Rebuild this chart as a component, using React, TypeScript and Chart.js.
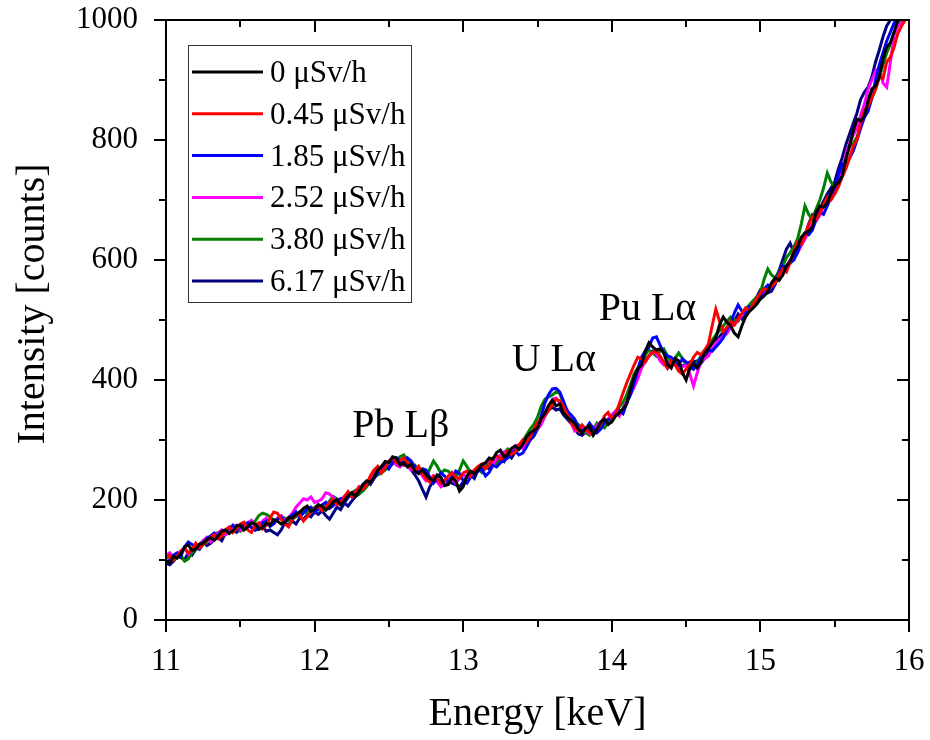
import React, { useEffect, useRef } from "react";
import { Chart, registerables } from "chart.js";
Chart.register(...registerables);

// Energy grid (keV)
const energyStart = 11;
const energyStep = 0.025;

const seriesLabels = ["0 μSv/h", "0.45 μSv/h", "1.85 μSv/h", "2.52 μSv/h", "3.80 μSv/h", "6.17 μSv/h"];
const seriesColors = ["#000000", "#ff0000", "#0000ff", "#ff00ff", "#008000", "#000080"];

const s0 = [
  98, 96, 106, 103, 110, 122, 125, 116, 118, 126, 128, 134, 137, 133, 140, 148, 150, 144, 149, 157,
  158, 150, 155, 162, 160, 151, 154, 161, 158, 167, 165, 160, 163, 171, 170, 176, 180, 186, 190, 181,
  184, 192, 190, 183, 188, 197, 200, 192, 198, 207, 212, 206, 215, 226, 232, 229, 238, 250, 256, 264,
  262, 272, 270, 258, 262, 255, 260, 248, 244, 250, 243, 236, 232, 242, 238, 224, 226, 237, 232, 215,
  222, 240, 248, 244, 250, 259, 262, 270, 268, 279, 283, 272, 276, 286, 290, 284, 292, 305, 312, 316,
  320, 336, 345, 358, 366, 357, 360, 345, 338, 333, 328, 318, 312, 320, 324, 308, 318, 330, 335, 326,
  330, 340, 345, 352, 360, 385, 405, 418, 425, 448, 462, 455, 450, 452, 445, 426, 420, 436, 432, 412,
  400, 420, 428, 420, 430, 445, 452, 461, 470, 492, 505, 496, 490, 478, 472, 490, 505, 514, 520, 526,
  535, 540, 548, 562, 570, 566, 575, 590, 598, 612, 622, 638, 645, 648, 655, 680, 690, 688, 695, 712,
  725, 728, 740, 768, 790, 815, 835, 832, 840, 866, 885, 890, 905, 935, 955, 962, 980, 1000, 1015, 1030,
  1035];

const s1 = [
  102, 108, 100, 106, 114, 120, 112, 118, 128, 120, 126, 133, 138, 142, 135, 140, 150, 155, 146, 152,
  160, 163, 150, 146, 158, 162, 152, 158, 170, 180, 178, 168, 160, 155, 168, 176, 175, 165, 172, 180,
  186, 190, 182, 188, 196, 201, 192, 196, 205, 214, 206, 213, 222, 218, 225, 240, 250, 256, 245, 254,
  265, 270, 262, 266, 270, 262, 255, 248, 256, 244, 236, 230, 240, 235, 228, 233, 240, 246, 238, 236,
  245, 248, 240, 250, 256, 260, 252, 258, 270, 274, 268, 272, 282, 276, 280, 291, 300, 296, 305, 318,
  330, 334, 342, 350, 358, 368, 365, 356, 342, 330, 320, 315, 325, 318, 312, 308, 318, 326, 340, 346,
  335, 343, 360, 378, 395, 410, 425, 438, 435, 430, 440, 446, 448, 440, 430, 420, 432, 426, 415, 410,
  418, 426, 438, 446, 442, 450, 460, 490, 518, 498, 480, 488, 498, 492, 502, 511, 520, 515, 525, 536,
  545, 552, 550, 556, 562, 575, 585, 580, 596, 615, 630, 626, 640, 660, 672, 668, 678, 692, 705, 700,
  710, 722, 738, 752, 770, 790, 800, 828, 850, 856, 870, 884, 905, 902, 930, 938, 955, 978, 990, 1000,
  1010];

const s2 = [
  95, 100, 108, 112, 106, 122, 130, 126, 122, 118, 128, 136, 140, 145, 138, 146, 150, 152, 158, 150,
  155, 158, 162, 154, 150, 156, 162, 165, 156, 160, 168, 172, 162, 170, 175, 180, 172, 178, 185, 188,
  180, 184, 192, 196, 186, 190, 198, 202, 195, 204, 212, 210, 218, 225, 230, 228, 236, 245, 255, 260,
  252, 262, 270, 265, 262, 270, 265, 255, 245, 252, 250, 238, 228, 236, 245, 240, 230, 238, 248, 244,
  232, 228, 238, 244, 248, 252, 240, 246, 258, 255, 262, 266, 270, 278, 282, 275, 278, 288, 300, 310,
  322, 340, 362, 376, 385, 386, 380, 365, 348, 342, 335, 322, 315, 318, 328, 320, 312, 318, 330, 334,
  336, 344, 350, 345, 362, 375, 395, 418, 438, 448, 455, 470, 472, 458, 445, 440, 438, 430, 425, 435,
  430, 425, 418, 426, 438, 446, 450, 448, 455, 462, 470, 485, 495, 512, 525, 515, 510, 522, 520, 528,
  540, 552, 558, 552, 560, 578, 590, 588, 595, 600, 612, 632, 645, 642, 650, 668, 680, 676, 690, 705,
  715, 742, 760, 758, 770, 782, 800, 820, 838, 848, 870, 900, 925, 945, 965, 980, 995, 1005, 1020, 1032,
  1040];

const s3 = [
  108, 112, 104, 110, 115, 120, 110, 118, 126, 124, 132, 138, 130, 136, 145, 150, 142, 147, 155, 158,
  150, 156, 162, 166, 155, 158, 165, 170, 158, 162, 170, 174, 165, 170, 178, 188, 195, 202, 200, 205,
  196, 198, 202, 212, 210, 204, 198, 200, 206, 212, 205, 214, 222, 220, 228, 238, 246, 255, 248, 258,
  265, 268, 258, 255, 262, 256, 250, 255, 252, 240, 232, 235, 240, 230, 222, 228, 238, 235, 228, 236,
  242, 238, 244, 248, 250, 258, 262, 265, 260, 268, 275, 280, 272, 282, 290, 292, 286, 294, 305, 312,
  318, 326, 340, 355, 368, 370, 362, 358, 350, 330, 315, 318, 322, 316, 310, 315, 325, 330, 328, 335,
  342, 348, 340, 352, 365, 375, 388, 402, 420, 430, 440, 446, 445, 432, 425, 428, 430, 425, 418, 422,
  425, 410, 390, 412, 430, 436, 440, 452, 460, 468, 472, 478, 488, 492, 500, 508, 512, 516, 522, 530,
  535, 546, 555, 560, 565, 568, 575, 590, 600, 605, 612, 624, 635, 648, 660, 665, 675, 690, 700, 710,
  720, 735, 752, 775, 795, 808, 820, 842, 860, 885, 900, 915, 920, 895, 888, 930, 975, 990, 995, 1008,
  1020];

const s4 = [
  104, 108, 100, 104, 108, 98, 102, 112, 120, 118, 126, 130, 134, 142, 146, 140, 142, 148, 150, 155,
  148, 152, 158, 162, 165, 174, 178, 176, 172, 166, 168, 172, 170, 165, 168, 172, 176, 182, 178, 184,
  188, 192, 184, 190, 198, 206, 202, 198, 200, 206, 212, 216, 210, 215, 222, 230, 238, 242, 245, 250,
  255, 260, 265, 272, 275, 266, 255, 258, 250, 242, 238, 252, 265, 256, 245, 250, 248, 242, 238, 250,
  265, 256, 245, 248, 252, 246, 256, 262, 265, 260, 270, 278, 285, 280, 282, 290, 298, 308, 318, 326,
  338, 356, 368, 372, 375, 380, 378, 360, 340, 336, 330, 326, 320, 312, 308, 318, 328, 322, 320, 330,
  340, 348, 355, 362, 375, 392, 410, 420, 430, 442, 450, 445, 440, 448, 452, 440, 428, 436, 445, 436,
  425, 418, 420, 430, 440, 448, 455, 466, 475, 482, 490, 498, 505, 500, 498, 508, 518, 525, 532, 538,
  545, 568, 585, 575, 570, 582, 590, 604, 612, 622, 635, 660, 690, 676, 668, 685, 700, 720, 745, 730,
  720, 738, 755, 770, 790, 795, 805, 825, 845, 852, 870, 885, 905, 925, 945, 960, 980, 992, 1000, 1012,
  1025];

const s5 = [
  95, 92, 98, 106, 104, 100, 112, 108, 118, 126, 132, 124, 128, 134, 138, 132, 145, 152, 150, 146,
  152, 160, 158, 154, 150, 152, 156, 148, 150, 146, 142, 150, 162, 158, 165, 160, 170, 168, 175, 172,
  180, 176, 182, 174, 168, 178, 188, 184, 195, 190, 198, 206, 210, 222, 230, 226, 236, 246, 255, 262,
  262, 268, 270, 262, 258, 262, 250, 242, 232, 218, 205, 222, 232, 236, 230, 226, 232, 228, 225, 222,
  230, 238, 242, 236, 250, 254, 256, 252, 262, 266, 268, 264, 275, 270, 280, 286, 290, 294, 300, 306,
  318, 328, 340, 350, 355, 350, 352, 342, 335, 328, 320, 310, 308, 314, 318, 312, 316, 322, 330, 326,
  335, 342, 348, 344, 362, 378, 395, 410, 422, 434, 440, 448, 445, 436, 428, 420, 430, 426, 418, 424,
  425, 430, 430, 432, 428, 436, 445, 450, 460, 472, 480, 484, 488, 498, 510, 502, 512, 520, 525, 538,
  550, 542, 545, 548, 560, 582, 600, 618, 628, 612, 620, 632, 640, 660, 675, 670, 685, 698, 710, 720,
  730, 752, 770, 792, 810, 828, 845, 868, 880, 888, 905, 930, 950, 972, 990, 1000, 1010, 1022, 1030, 1040,
  1050];

const seriesValues = [s0, s1, s2, s3, s4, s5];

const xMajorTicks = [11, 12, 13, 14, 15, 16];
const xMinorTicks = [11.5, 12.5, 13.5, 14.5, 15.5];
const yMajorTicks = [0, 200, 400, 600, 800, 1000];
const yMinorTicks = [100, 300, 500, 700, 900];

const annotationLabels = ["Pb Lβ", "U Lα", "Pu Lα"];
const annotationX = [12.58, 13.61, 14.24];
const annotationY = [305, 415, 500];

const xTitle = "Energy [keV]";
const yTitle = "Intensity [counts]";

const FONT = "'Liberation Serif', 'Times New Roman', serif";

const framePlugin = {
  id: "frameTicks",
  afterDraw(chart: any) {
    const { ctx, chartArea } = chart;
    const { left, right, top, bottom } = chartArea;
    const xs = chart.scales.x;
    const ys = chart.scales.y;
    ctx.save();
    ctx.strokeStyle = "#000";
    ctx.lineWidth = 2;
    ctx.lineCap = "butt";
    ctx.strokeRect(left, top, right - left, bottom - top);
    const major = 12, minor = 7;
    const drawX = (v: number, len: number) => {
      const px = Math.round(xs.getPixelForValue(v));
      ctx.beginPath();
      ctx.moveTo(px, bottom); ctx.lineTo(px, bottom + len);
      ctx.moveTo(px, top); ctx.lineTo(px, top + len);
      ctx.stroke();
    };
    const drawY = (v: number, len: number) => {
      const py = Math.round(ys.getPixelForValue(v));
      ctx.beginPath();
      ctx.moveTo(left, py); ctx.lineTo(left - len, py);
      ctx.moveTo(right, py); ctx.lineTo(right - len, py);
      ctx.stroke();
    };
    xMajorTicks.forEach((v) => drawX(v, major));
    xMinorTicks.forEach((v) => drawX(v, minor));
    yMajorTicks.forEach((v) => drawY(v, major));
    yMinorTicks.forEach((v) => drawY(v, minor));

    // y-axis title
    ctx.fillStyle = "#000";
    ctx.save();
    ctx.font = `40px ${FONT}`;
    ctx.textAlign = "center";
    ctx.textBaseline = "alphabetic";
    ctx.translate(44, (top + bottom) / 2 - 16);
    ctx.rotate(-Math.PI / 2);
    ctx.fillText(yTitle, 0, 0);
    ctx.restore();

    // annotations
    ctx.fillStyle = "#000";
    ctx.font = `40px ${FONT}`;
    ctx.textAlign = "center";
    ctx.textBaseline = "alphabetic";
    annotationLabels.forEach((t, i) => {
      ctx.fillText(t, xs.getPixelForValue(annotationX[i]), ys.getPixelForValue(annotationY[i]));
    });

    // legend
    const lx = left + 22, ly = top + 25, lw = 223, lh = 257;
    ctx.fillStyle = "#fff";
    ctx.fillRect(lx, ly, lw, lh);
    ctx.strokeStyle = "#333";
    ctx.lineWidth = 1;
    ctx.strokeRect(lx + 0.5, ly + 0.5, lw, lh);
    ctx.font = `31px ${FONT}`;
    ctx.textAlign = "left";
    ctx.textBaseline = "alphabetic";
    chart.data.datasets.forEach((ds: any, i: number) => {
      const ry = ly + 27 + i * 41.8;
      ctx.strokeStyle = ds.borderColor;
      ctx.lineWidth = 3;
      ctx.beginPath();
      ctx.moveTo(lx + 4, ry);
      ctx.lineTo(lx + 75, ry);
      ctx.stroke();
      ctx.fillStyle = "#000";
      ctx.fillText(ds.label, lx + 82, ry + 10);
    });
    ctx.restore();
  },
};

export default function App() {
  const ref = useRef<HTMLCanvasElement | null>(null);
  useEffect(() => {
    if (!ref.current) return;
    const datasets = seriesValues.map((vals, k) => ({
      label: seriesLabels[k],
      data: vals.map((v, i) => ({ x: energyStart + i * energyStep, y: v })),
      borderColor: seriesColors[k],
      backgroundColor: seriesColors[k],
      borderWidth: 3,
      pointRadius: 0,
      tension: 0,
      fill: false,
    }));
    const chart = new Chart(ref.current, {
      type: "line",
      data: { datasets },
      options: {
        animation: false,
        responsive: false,
        events: [],
        layout: { padding: { top: 20, right: 21, left: 0, bottom: 0 } },
        plugins: { legend: { display: false }, tooltip: { enabled: false } },
        scales: {
          x: {
            type: "linear",
            min: 11,
            max: 16,
            grid: { display: false },
            border: { display: false },
            ticks: { stepSize: 1, color: "#000", padding: 15, font: { family: FONT, size: 31 }, callback: (v: any) => String(v) },
            title: { display: true, text: xTitle, color: "#000", font: { family: FONT, size: 40 }, padding: { top: 0, bottom: 2 } },
            afterFit: (s: any) => { s.height = 120; s.paddingLeft = 0; s.paddingRight = 0; },
          },
          y: {
            type: "linear",
            min: 0,
            max: 1000,
            grid: { display: false },
            border: { display: false },
            ticks: { stepSize: 200, color: "#000", padding: 20, font: { family: FONT, size: 31 }, callback: (v: any) => String(v) },
            title: { display: false },
            afterFit: (s: any) => { s.width = 166; s.paddingTop = 0; s.paddingBottom = 0; },
          },
        },
      },
      plugins: [framePlugin],
    });
    return () => chart.destroy();
  }, []);
  return (
    <div style={{ position: "absolute", left: 0, top: 0, width: 930, height: 740, background: "#fff" }}>
      <canvas ref={ref} width={930} height={740} style={{ display: "block", width: 930, height: 740 }} />
    </div>
  );
}
